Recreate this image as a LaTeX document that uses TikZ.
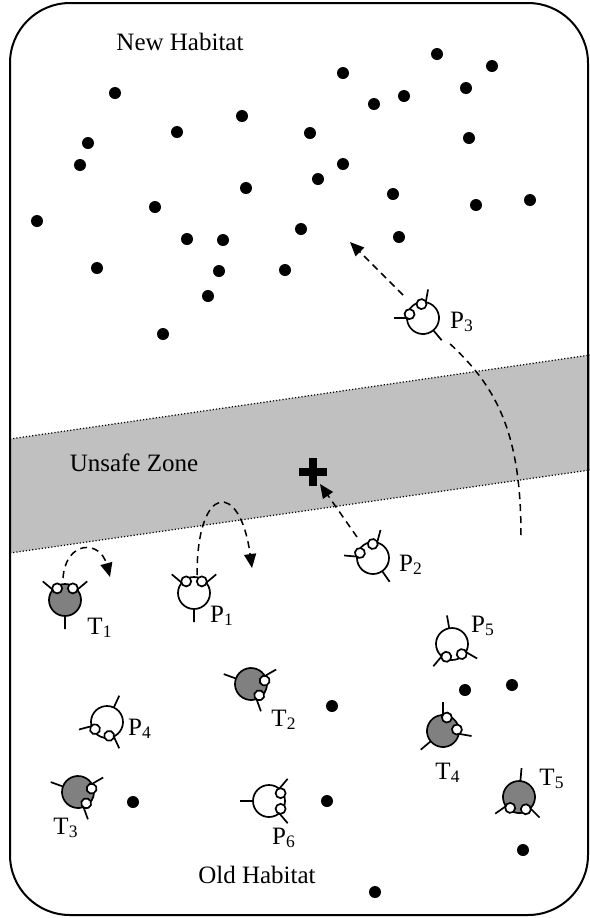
\documentclass[tikz,border=0pt]{standalone}
\usepackage{fontspec}
\setmainfont{Liberation Serif}
\usetikzlibrary{arrows.meta}
\definecolor{ZoneGray}{HTML}{C0C0C0}
\definecolor{BugGray}{HTML}{808080}

% one bug: name, centre, heading, body colour
\newcommand{\bug}[4]{%
  \coordinate (#1) at (#2);
  \begin{scope}[shift={(#2)},rotate=#3]
    \draw[leg] (50:15)--(50:29) (-50:15)--(-50:29) (180:15)--(180:29);
    \draw[leg,fill=#4] (0,0) circle (16);
    \draw[leg,fill=white] (34:14) circle (5) (-34:14) circle (5);
  \end{scope}}

\begin{document}
\begin{tikzpicture}[x=0.5pt,y=-0.5pt,>={Triangle[length=7pt,width=6pt]}]
  \tikzstyle{leg}=[line width=0.85pt]
  \tikzstyle{food}=[fill=black]
  \tikzstyle{trail}=[line width=0.75pt,dash pattern=on 3.5pt off 2.5pt]
  \tikzstyle{tag}=[inner sep=0pt,font=\fontsize{12.5}{15}\selectfont]
  \useasboundingbox (0,0) rectangle (590,918);

  % unsafe band
  \fill[ZoneGray] (10,439) -- (590,355) -- (590,470) -- (10,553) -- cycle;
  \draw[densely dotted,line width=0.6pt] (10,439) -- (590,355);
  \draw[densely dotted,line width=0.6pt] (10,553) -- (590,470);
  \draw[line width=1pt,rounded corners=30pt] (10,3) rectangle (588,915);

  \node[tag] (new) at (180,42) {New Habitat};
  \node[tag] (zone) at (134,463) {Unsafe Zone};
  \node[tag] (old) at (257,875) {Old Habitat};

  % food
  \foreach \p in {(343,73),(437,54),(492,66),(115,93),(466,88),(404,96),
      (374,104),(242,116),(177,132),(310,133),(88,143),(469,138),(80,165),
      (343,164),(318,179),(246,188),(393,194),(37,221),(155,207),(476,205),
      (530,200),(301,229),(187,239),(223,240),(399,237),(97,268),(219,271),
      (285,270),(208,296),(163,334),
      (465,690),(512,685),(332,706),(133,802),(327,801),(523,850),(375,892)}
    \fill[food] \p circle (6);

  % danger mark
  \draw[line width=4pt] (299,472) -- (327,472) (313,458) -- (313,486);
  \coordinate (hit) at (320,484);

  \bug{T1}{65,600}{90}{BugGray}
  \bug{P1}{194,593}{90}{white}
  \bug{P2}{373,558}{125}{white}
  \bug{P3}{423,318}{130}{white}
  \bug{T2}{251,684}{-20}{BugGray}
  \bug{T3}{78,792}{-20}{BugGray}
  \bug{T4}{443,731}{40}{BugGray}
  \bug{T5}{519,797}{-95}{BugGray}
  \bug{P4}{107,722}{-115}{white}
  \bug{P5}{452,644}{-80}{white}
  \bug{P6}{269,801}{0}{white}

  \node[tag] (t1) at (100,628) {T\textsubscript{1}};
  \node[tag] (p1) at (222,616) {P\textsubscript{1}};
  \node[tag] (p2) at (411,565) {P\textsubscript{2}};
  \node[tag] (p3) at (462,322) {P\textsubscript{3}};
  \node[tag] (t2) at (284,720) {T\textsubscript{2}};
  \node[tag] (t3) at (66,828) {T\textsubscript{3}};
  \node[tag] (t4) at (448,773) {T\textsubscript{4}};
  \node[tag] (t5) at (552,779) {T\textsubscript{5}};
  \node[tag] (p4) at (140,729) {P\textsubscript{4}};
  \node[tag] (p5) at (483,626) {P\textsubscript{5}};
  \node[tag] (p6) at (284,838) {P\textsubscript{6}};

  % moves
  \coordinate (t1back) at (110,577);
  \coordinate (p1back) at (252,568);
  \coordinate (p3from) at (521,535);
  \coordinate (p3goal) at (350,242);
  \draw[trail,->] ([shift={(-2,-22)}]T1) .. controls +(3,-38) and +(-10,-37) .. (t1back);
  \draw[trail,->] ([shift={(3,-18)}]P1) .. controls +(0,-92) and +(-12,-88) .. (p1back);
  \draw[trail,->] ([shift={(-16,-21)}]P2) -- (hit);
  \draw[trail] (p3from) .. controls +(0,-105) and +(47,43) .. ([shift={(25,24)}]P3);
  \draw[trail,->] ([shift={(-20,-23)}]P3) -- (p3goal);
\end{tikzpicture}
\end{document}
